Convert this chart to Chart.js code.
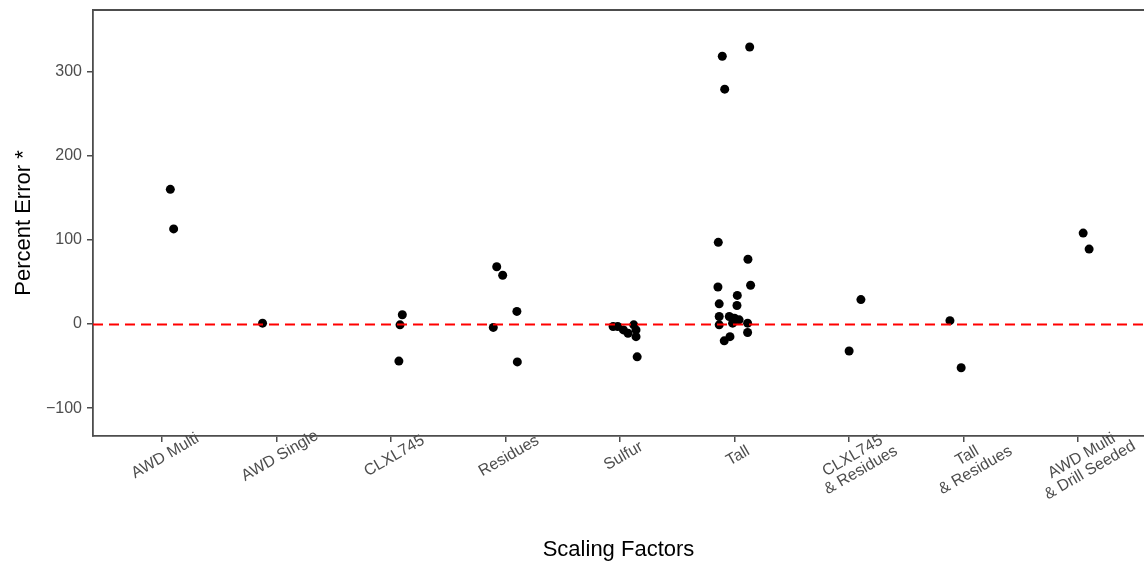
<!DOCTYPE html>
<html>
<head>
<meta charset="utf-8">
<script src="https://cdn.jsdelivr.net/npm/chart.js@4"></script>
<style>
  html, body { margin: 0; padding: 0; background: #ffffff; }
  canvas { display: block; }
</style>
</head>
<body>
<canvas id="c" width="1144" height="563"></canvas>
<script>
// ---------------- DATA ----------------
const categories = ['AWD Multi', 'AWD Single', 'CLXL745', 'Residues', 'Sulfur', 'Tall',
  'CLXL745 & Residues', 'Tall & Residues', 'AWD Multi & Drill Seeded'];
const tickLabelLines = [['AWD Multi'], ['AWD Single'], ['CLXL745'], ['Residues'], ['Sulfur'], ['Tall'],
  ['CLXL745', '& Residues'], ['Tall', '& Residues'], ['AWD Multi', '& Drill Seeded']];
const yTickValues = [-100, 0, 100, 200, 300];
const refLineValue = 0;

// percent error per category and horizontal jitter
const awdMultiErr = [160, 113];
const awdMultiJit = [0.075, 0.104];
const awdSingleErr = [1];
const awdSingleJit = [-0.12];
const clxl745Err = [11, -1, -44];
const clxl745Jit = [0.10, 0.08, 0.07];
const residuesErr = [68, 58, 15, -4, -45];
const residuesJit = [-0.076, -0.024, 0.10, -0.106, 0.104];
const sulfurErr = [-3, -3, -7, -11, -1, -7, -15, -39];
const sulfurJit = [-0.06, -0.02, 0.03, 0.07, 0.12, 0.14, 0.14, 0.15];
const tallErr = [318, 329, 279, 97, 77, 46, 44, 34, 24, 22, 9, 9, 7, 5, -1, 1, 1, -10, -20, -15];
const tallJit = [-0.107, 0.132, -0.086, -0.142, 0.117, 0.14, -0.145, 0.024, -0.134, 0.021,
  -0.134, -0.046, 0, 0.04, -0.134, -0.017, 0.114, 0.114, -0.09, -0.04];
const clxlResErr = [29, -32];
const clxlResJit = [0.103, 0.0];
const tallResErr = [4, -52];
const tallResJit = [-0.12, -0.022];
const awdDrillErr = [108, 89];
const awdDrillJit = [0.043, 0.095];

const seriesErr = [awdMultiErr, awdSingleErr, clxl745Err, residuesErr, sulfurErr, tallErr, clxlResErr, tallResErr, awdDrillErr];
const seriesJit = [awdMultiJit, awdSingleJit, clxl745Jit, residuesJit, sulfurJit, tallJit, clxlResJit, tallResJit, awdDrillJit];

// ---------------- BUILD ----------------
const points = [];
seriesErr.forEach((vals, i) => {
  vals.forEach((v, j) => points.push({ x: i + seriesJit[i][j], y: v }));
});

const FONT = '"Liberation Sans", Arial, sans-serif';
const AXIS_COL = '#4d4d4d';
const TICK_COL = '#4d4d4d';

const framePlugin = {
  id: 'frame',
  afterDatasetsDraw(chart) {
    const { ctx, chartArea, scales } = chart;
    const y0 = Math.round(scales.y.getPixelForValue(refLineValue)) + 0.5;
    ctx.save();
    ctx.strokeStyle = '#ff0000';
    ctx.lineWidth = 1.8;
    ctx.setLineDash([10, 6]);
    ctx.beginPath();
    ctx.moveTo(chartArea.left, y0);
    ctx.lineTo(chartArea.right, y0);
    ctx.stroke();
    ctx.restore();
  },
  afterDraw(chart) {
    const { ctx, chartArea, scales } = chart;
    ctx.save();
    ctx.strokeStyle = AXIS_COL;
    ctx.lineWidth = 1.8;
    ctx.beginPath();
    ctx.moveTo(chartArea.left - 0.9, chartArea.top);
    ctx.lineTo(chartArea.right, chartArea.top);
    ctx.stroke();
    ctx.restore();
    const xs = scales.x;
    const baseY = chartArea.bottom + 20;
    const ang = -30 * Math.PI / 180;
    const lineStep = 16.5;
    ctx.save();
    ctx.fillStyle = TICK_COL;
    ctx.font = '16px ' + FONT;
    ctx.textAlign = 'center';
    ctx.textBaseline = 'middle';
    tickLabelLines.forEach((lines, i) => {
      const cx = xs.getPixelForValue(i) + 3.5;
      lines.forEach((txt, k) => {
        const px = cx + k * lineStep * Math.sin(Math.PI / 6);
        const py = baseY + k * lineStep * Math.cos(Math.PI / 6);
        ctx.save();
        ctx.translate(px, py);
        ctx.rotate(ang);
        ctx.fillText(txt, 0, 0);
        ctx.restore();
      });
    });
    ctx.restore();
  }
};

new Chart(document.getElementById('c'), {
  type: 'scatter',
  data: {
    datasets: [{
      label: 'Percent Error',
      data: points,
      backgroundColor: '#000000',
      borderWidth: 0,
      pointRadius: 4.5,
      pointHoverRadius: 4.5
    }]
  },
  options: {
    responsive: false,
    animation: false,
    events: [],
    layout: { autoPadding: false, padding: { top: 10, right: 0, bottom: 0, left: 0 } },
    plugins: { legend: { display: false }, tooltip: { enabled: false } },
    scales: {
      x: {
        type: 'linear',
        min: -0.6,
        max: 8.574,
        afterBuildTicks: (s) => { s.ticks = categories.map((c, i) => ({ value: i })); },
        afterFit: (s) => { s.height = 127; s.paddingLeft = 0; s.paddingRight = 0; },
        grid: { drawOnChartArea: false, drawTicks: true, tickLength: 6, color: AXIS_COL, lineWidth: 1.5 },
        border: { display: true, color: AXIS_COL, width: 1.8 },
        ticks: { display: false },
        title: {
          display: true, text: 'Scaling Factors', color: '#000000',
          font: { family: FONT, size: 22 }, padding: { top: 0, bottom: 0 }
        }
      },
      y: {
        type: 'linear',
        min: -133,
        max: 373,
        afterBuildTicks: (s) => { s.ticks = yTickValues.map(v => ({ value: v })); },
        afterFit: (s) => { s.width = 93; s.paddingTop = 0; s.paddingBottom = 0; },
        grid: { drawOnChartArea: false, drawTicks: true, tickLength: 6, color: AXIS_COL, lineWidth: 1.5 },
        border: { display: true, color: AXIS_COL, width: 1.8 },
        ticks: {
          color: TICK_COL, padding: 5,
          font: { family: FONT, size: 16 },
          callback: (v) => String(v).replace('-', '\u2212')
        },
        title: {
          display: true, text: 'Percent Error *', color: '#000000',
          font: { family: FONT, size: 22 }, padding: { top: 11, bottom: 0 }
        }
      }
    }
  },
  plugins: [framePlugin]
});
</script>
</body>
</html>
